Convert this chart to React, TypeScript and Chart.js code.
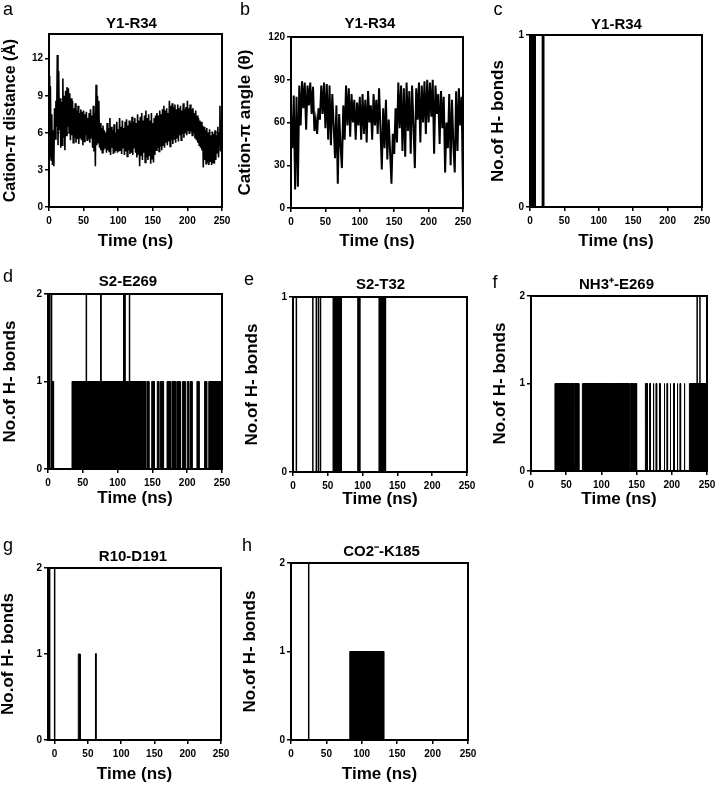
import React, { useEffect, useRef } from "react";
import { Chart, registerables } from "chart.js";
Chart.register(...registerables);

const FONT = "'Liberation Sans', Arial, Helvetica, sans-serif";
Chart.defaults.font.family = FONT;
Chart.defaults.color = "#000";

// ---------------- DATA ----------------
const timeTicks = [0, 50, 100, 150, 200, 250];
const timeTicksG = [0, 50, 100, 150, 200, 250];
const aYTicks = [0, 3, 6, 9, 12];
const bYTicks = [0, 30, 60, 90, 120];
const hb1Ticks = [0, 1];
const hb2Ticks = [0, 1, 2];

// (a) cation-pi distance, one sample per ns from 0 to 250 ns
const aStepNs = 1;
const aDistance = [
  10.6, 4.0, 9.8, 3.8, 7.5, 3.4, 6.2, 3.3, 8.0, 5.5,
  8.6, 6.5, 12.3, 5.0, 11.0, 6.2, 8.8, 4.8, 8.5, 5.0,
  10.4, 5.6, 9.0, 4.6, 9.4, 5.8, 9.7, 6.5, 9.6, 6.0,
  9.2, 5.4, 8.8, 5.8, 8.6, 5.2, 8.0, 5.6, 8.4, 5.2,
  7.8, 5.5, 8.2, 5.1, 7.6, 5.6, 7.9, 5.4, 7.7, 5.0,
  7.8, 5.3, 7.5, 5.8, 7.7, 5.4, 7.2, 5.5, 7.6, 5.2,
  7.9, 5.6, 7.4, 4.8, 8.2, 4.5, 7.6, 3.3, 9.9, 5.0,
  9.0, 5.2, 8.6, 4.8, 6.8, 4.6, 6.4, 4.4, 6.6, 4.6,
  6.2, 4.8, 6.0, 4.4, 6.8, 4.6, 6.4, 4.5, 7.2, 4.2,
  6.5, 4.8, 6.2, 4.3, 6.7, 4.4, 6.0, 4.6, 6.9, 4.4,
  6.3, 4.5, 7.2, 4.6, 6.5, 4.3, 7.0, 4.8, 6.4, 4.2,
  6.9, 4.5, 7.1, 4.1, 6.6, 4.6, 7.0, 4.3, 6.8, 4.4,
  7.3, 4.2, 6.9, 4.8, 7.2, 4.4, 6.8, 4.0, 7.5, 4.3,
  7.0, 3.3, 7.3, 4.2, 7.6, 3.8, 7.0, 4.4, 7.4, 3.6,
  7.8, 4.0, 7.2, 3.8, 7.5, 4.1, 7.0, 3.5, 7.6, 3.9,
  6.8, 3.6, 7.2, 4.2, 7.4, 4.6, 7.6, 4.8, 7.4, 4.5,
  7.8, 4.9, 7.5, 4.6, 7.9, 5.0, 8.2, 4.8, 7.8, 5.2,
  8.0, 5.0, 7.6, 5.3, 8.6, 4.9, 8.2, 5.4, 8.4, 5.1,
  8.1, 5.5, 8.3, 5.2, 7.9, 5.6, 8.3, 5.3, 8.0, 5.8,
  8.2, 5.4, 7.8, 5.9, 8.4, 5.6, 7.9, 6.0, 8.1, 5.8,
  8.6, 6.2, 8.0, 5.9, 8.3, 6.1, 7.9, 5.8, 8.0, 6.0,
  7.6, 5.6, 7.8, 5.4, 7.4, 5.2, 7.2, 5.0, 7.0, 4.8,
  6.9, 4.6, 6.6, 3.2, 6.5, 3.8, 6.2, 3.5, 6.4, 3.6,
  6.0, 3.4, 6.3, 3.7, 5.8, 3.4, 6.1, 3.6, 5.9, 3.5,
  6.2, 3.8, 5.8, 4.4, 6.5, 4.0, 6.0, 8.2, 4.5, 7.0,
  3.6,
];
const aReferenceLine = 6;

// (b) cation-pi angle, one sample every 2 ns from 0 to 250 ns
const bStepNs = 2;
const bAngle = [
  66, 42, 79, 13, 78, 15, 86, 58, 89, 70,
  88, 55, 86, 72, 88, 66, 85, 54, 62, 52,
  70, 62, 86, 66, 88, 56, 87, 48, 86, 44,
  80, 58, 35, 72, 17, 66, 44, 28, 72, 48,
  86, 58, 84, 50, 80, 60, 76, 48, 74, 58,
  78, 48, 80, 52, 76, 46, 82, 60, 72, 48,
  80, 58, 76, 52, 84, 56, 27, 70, 42, 76,
  34, 62, 40, 17, 52, 38, 70, 46, 88, 56,
  86, 40, 84, 36, 88, 54, 82, 38, 86, 58,
  28, 84, 62, 88, 46, 86, 60, 89, 52, 90,
  60, 88, 64, 90, 38, 86, 66, 80, 45, 82,
  56, 78, 25, 60, 42, 80, 30, 76, 44, 25,
  82, 40, 84, 58, 78, 9,
];

// H-bond panels: [start ns, end ns] of dense bonding (count 1, drawn solid)
// and [start ns, end ns, count] of isolated bonding events (drawn as outline)
const cBlocks = [[1, 8]];
const cEvents = [[18, 20, 1]];

const dBlocks = [
  [5.8, 8], [34.5, 135], [136, 140], [142, 145], [149, 153], [157, 159],
  [161, 166], [171, 176], [178, 183], [185, 190], [193, 197], [200, 202],
  [204, 207], [214, 217], [225, 228], [231, 250],
];
const dEvents = [
  [0, 2.5, 2], [4.8, 5.3, 2], [54.8, 55.3, 2], [75.8, 76.3, 2],
  [108.8, 110.8, 2], [116.8, 117.3, 2],
];

const eBlocks = [[57.5, 69.5], [93, 96], [123.5, 133]];
const eEvents = [[4.5, 5, 1], [28.5, 33.5, 1], [36.5, 39.5, 1]];

const fBlocks = [
  [34, 55.5], [56.5, 60.5], [61.5, 68], [73, 119.8], [120.2, 139.5],
  [141, 146], [147, 150], [162.5, 163.5], [164.5, 165.5], [168.5, 169.5],
  [173.5, 174.5], [177.5, 178.5], [182.5, 183.5], [189, 190], [193, 194],
  [197.5, 198.5], [202.5, 203.5], [207.5, 208.5], [211.5, 212.5],
  [217.5, 218.5], [225, 250],
];
const fEvents = [[236, 240, 2]];

const gBlocks = [[35.5, 38.5]];
const gEvents = [[-7.5, 0, 2], [61.7, 62.3, 1]];

const hBlocks = [[83, 114.8], [115.3, 131]];
const hEvents = [[0, 25, 2]];

// ---------------- HELPERS ----------------
function traceFrom(intervals: number[][], defLevel = 1) {
  const pts: { x: number; y: number }[] = [];
  for (const it of intervals) {
    const lv = it.length > 2 ? it[2] : defLevel;
    pts.push({ x: it[0], y: 0 }, { x: it[0], y: lv }, { x: it[1], y: lv }, { x: it[1], y: 0 });
  }
  return pts;
}

const framePlugin = {
  id: "frame",
  afterDatasetsDraw(chart: any) {
    const { ctx, chartArea } = chart;
    ctx.save();
    ctx.strokeStyle = "#000";
    ctx.lineWidth = 2;
    ctx.strokeRect(chartArea.left, chartArea.top, chartArea.right - chartArea.left, chartArea.bottom - chartArea.top);
    ctx.restore();
  },
};

type Spec = {
  key: string;
  letter: string;
  letterX: number;
  letterBase: number;
  title: string;
  yTitle: string;
  yTitleSize: number;
  L: number; R: number; T: number; B: number;
  yTitleX: number; titleCx: number; titleCy: number; xTitleCy: number;
  xMin: number; xMax: number; xTicks: number[];
  yMin: number; yMax: number; yTicks: number[];
  datasets: any[];
};

const TITLE_SIZE = 15;
const XTITLE_SIZE = 17;

function geom(p: Spec) {
  const lhY = p.yTitleSize * 1.2;
  const lhT = TITLE_SIZE * 1.2;
  const lhX = XTITLE_SIZE * 1.2;
  const cl = Math.round(p.yTitleX - lhY / 2);
  const ct = Math.round(p.titleCy - lhT / 2);
  const cr = Math.round(2 * p.titleCx - cl);
  const cb = Math.round(p.xTitleCy + lhX / 2);
  return {
    cl, ct, w: cr - cl, h: cb - ct,
    wy: p.L - cl, xr: cr - p.R, hx: cb - p.B,
    tpb: Math.max(0, p.T - ct - lhT),
  };
}

function hbondSets(blocks: number[][], events: number[][]) {
  return [
    {
      data: traceFrom(blocks, 1),
      borderColor: "#000",
      backgroundColor: "#000",
      borderWidth: 1,
      fill: "origin",
      pointRadius: 0,
    },
    {
      data: traceFrom(events, 1),
      borderColor: "#000",
      borderWidth: 1.5,
      fill: false,
      pointRadius: 0,
    },
  ];
}

const HB = "No.of H- bonds";

const specs: Spec[] = [
  {
    key: "a", letter: "a", letterX: 8, letterBase: 15, title: "Y1-R34",
    yTitle: "Cation-\u03c0 distance (\u00c5)", yTitleSize: 16,
    L: 49, R: 222, T: 34, B: 207, yTitleX: 11, titleCx: 131.7, titleCy: 24, xTitleCy: 242,
    xMin: 0, xMax: 250, xTicks: timeTicks, yMin: 0, yMax: 14, yTicks: aYTicks,
    datasets: [
      {
        data: aDistance.map((y, i) => ({ x: i * aStepNs, y })),
        borderColor: "#000", borderWidth: 1.6, pointRadius: 0, fill: false,
      },
      {
        data: [{ x: 0, y: aReferenceLine }, { x: 250, y: aReferenceLine }],
        borderColor: "#8c8c8c", borderWidth: 1.5, pointRadius: 0, fill: false,
      },
    ],
  },
  {
    key: "b", letter: "b", letterX: 245, letterBase: 15, title: "Y1-R34",
    yTitle: "Cation-\u03c0 angle (\u03b8)", yTitleSize: 17,
    L: 291, R: 463, T: 37, B: 208, yTitleX: 245, titleCx: 370, titleCy: 23.5, xTitleCy: 242,
    xMin: 0, xMax: 250, xTicks: timeTicks, yMin: 0, yMax: 120, yTicks: bYTicks,
    datasets: [
      {
        data: bAngle.map((y, i) => ({ x: i * bStepNs, y })),
        borderColor: "#000", borderWidth: 2, pointRadius: 0, fill: false,
      },
    ],
  },
  {
    key: "c", letter: "c", letterX: 498, letterBase: 15, title: "Y1-R34",
    yTitle: HB, yTitleSize: 17,
    L: 530, R: 702, T: 35, B: 207, yTitleX: 498, titleCx: 616.7, titleCy: 25, xTitleCy: 242,
    xMin: 0, xMax: 250, xTicks: timeTicks, yMin: 0, yMax: 1, yTicks: hb1Ticks,
    datasets: hbondSets(cBlocks, cEvents),
  },
  {
    key: "d", letter: "d", letterX: 8, letterBase: 282, title: "S2-E269",
    yTitle: HB, yTitleSize: 17,
    L: 48, R: 222, T: 294, B: 469, yTitleX: 10, titleCx: 128, titleCy: 282, xTitleCy: 499,
    xMin: 0, xMax: 250, xTicks: timeTicks, yMin: 0, yMax: 2, yTicks: hb2Ticks,
    datasets: hbondSets(dBlocks, dEvents),
  },
  {
    key: "e", letter: "e", letterX: 249, letterBase: 285, title: "S2-T32",
    yTitle: HB, yTitleSize: 17,
    L: 293, R: 467, T: 297, B: 472, yTitleX: 252, titleCx: 380.7, titleCy: 285, xTitleCy: 500,
    xMin: 0, xMax: 250, xTicks: timeTicks, yMin: 0, yMax: 1, yTicks: hb1Ticks,
    datasets: hbondSets(eBlocks, eEvents),
  },
  {
    key: "f", letter: "f", letterX: 495, letterBase: 288, title: "NH3\u207a-E269",
    yTitle: HB, yTitleSize: 17,
    L: 531, R: 707, T: 296, B: 471, yTitleX: 500, titleCx: 616.7, titleCy: 285, xTitleCy: 500,
    xMin: 0, xMax: 250, xTicks: timeTicks, yMin: 0, yMax: 2, yTicks: hb2Ticks,
    datasets: hbondSets(fBlocks, fEvents),
  },
  {
    key: "g", letter: "g", letterX: 8, letterBase: 551, title: "R10-D191",
    yTitle: HB, yTitleSize: 17,
    L: 48, R: 221, T: 568, B: 740, yTitleX: 8, titleCx: 133, titleCy: 557, xTitleCy: 775,
    xMin: -10, xMax: 250, xTicks: timeTicksG, yMin: 0, yMax: 2, yTicks: hb2Ticks,
    datasets: hbondSets(gBlocks, gEvents),
  },
  {
    key: "h", letter: "h", letterX: 247, letterBase: 551, title: "CO2\u207b-K185",
    yTitle: HB, yTitleSize: 17,
    L: 291, R: 468, T: 563, B: 740, yTitleX: 250, titleCx: 381.7, titleCy: 552, xTitleCy: 775,
    xMin: 0, xMax: 250, xTicks: timeTicks, yMin: 0, yMax: 2, yTicks: hb2Ticks,
    datasets: hbondSets(hBlocks, hEvents),
  },
];

function Panel({ spec }: { spec: Spec }) {
  const ref = useRef<HTMLCanvasElement>(null);
  const g = geom(spec);
  useEffect(() => {
    if (!ref.current) return;
    const tickFont = { size: 10, weight: "bold" as const, family: FONT };
    const gridOpts = {
      display: true, drawOnChartArea: false, drawTicks: true, tickLength: 4,
      color: "#000", lineWidth: 1.5,
    };
    const chart = new Chart(ref.current, {
      type: "line",
      data: { datasets: spec.datasets.map((d) => ({ ...d, tension: 0 })) },
      options: {
        responsive: false,
        animation: false,
        devicePixelRatio: 1,
        layout: { padding: 0 },
        plugins: {
          legend: { display: false },
          tooltip: { enabled: false },
          title: {
            display: true,
            text: spec.title,
            color: "#000",
            font: { size: TITLE_SIZE, weight: "bold", family: FONT },
            padding: { top: 0, bottom: g.tpb },
          },
        },
        scales: {
          x: {
            type: "linear",
            position: "bottom",
            min: spec.xMin,
            max: spec.xMax,
            afterFit: (s: any) => { s.height = g.hx; },
            afterBuildTicks: (s: any) => { s.ticks = spec.xTicks.map((v) => ({ value: v })); },
            ticks: { font: tickFont, color: "#000", padding: 4, maxRotation: 0, autoSkip: false },
            grid: gridOpts,
            border: { display: true, color: "#000", width: 2 },
            title: {
              display: true, text: "Time (ns)", color: "#000",
              font: { size: XTITLE_SIZE, weight: "bold", family: FONT },
              padding: { top: 0, bottom: 0 },
            },
          },
          y: {
            type: "linear",
            position: "left",
            min: spec.yMin,
            max: spec.yMax,
            afterFit: (s: any) => { s.width = g.wy; },
            afterBuildTicks: (s: any) => { s.ticks = spec.yTicks.map((v) => ({ value: v })); },
            ticks: { font: tickFont, color: "#000", padding: 2, autoSkip: false },
            grid: gridOpts,
            border: { display: true, color: "#000", width: 2 },
            title: {
              display: true, text: spec.yTitle, color: "#000",
              font: { size: spec.yTitleSize, weight: "bold", family: FONT },
              padding: { top: 0, bottom: 0 },
            },
          },
          yR: {
            type: "linear",
            position: "right",
            display: true,
            afterFit: (s: any) => { s.width = g.xr; },
            ticks: { display: false },
            grid: { display: false },
            border: { display: false },
          },
        },
      } as any,
      plugins: [framePlugin],
    });
    return () => chart.destroy();
  }, []);
  return (
    <div style={{ position: "absolute", left: g.cl, top: g.ct, width: g.w, height: g.h }}>
      <canvas ref={ref} width={g.w} height={g.h} style={{ width: g.w, height: g.h, display: "block" }} />
    </div>
  );
}

export default function App() {
  return (
    <div
      style={{
        position: "absolute", left: 0, top: 0, width: 715, height: 787,
        overflow: "hidden", background: "#fff", fontFamily: FONT,
      }}
    >
      {specs.map((s) => (
        <Panel key={s.key} spec={s} />
      ))}
      {specs.map((s) => (
        <div
          key={"l" + s.key}
          style={{
            position: "absolute", left: s.letterX, top: s.letterBase - 15.2,
            transform: "translateX(-50%)", fontSize: 18, lineHeight: "18px",
            color: "#000", fontFamily: FONT,
          }}
        >
          {s.letter}
        </div>
      ))}
    </div>
  );
}
